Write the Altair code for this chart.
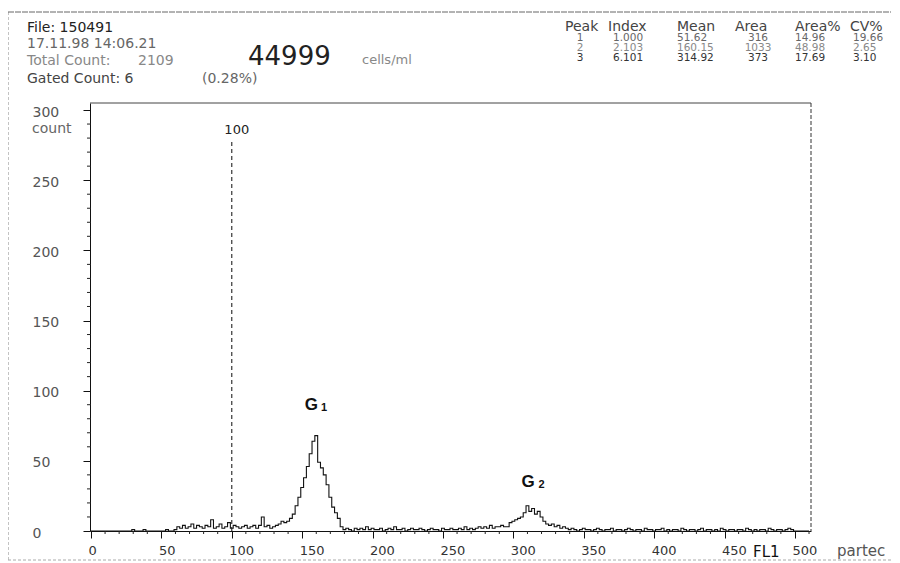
import altair as alt
import pandas as pd

# ---------------- data ----------------
counts_low = [0,0,0,0,0,0,0,0,0,0, 0,0,0,0,0,1,0,0,0,1, 0,0,0,0,0,0,0,1,0,0]
counts_noise = [1,3,2,4,2,3,5,2,4,3, 2,4,3,8,2,3,5,2,3,6, 2,4,3,2,3,4,2,3,4,2,
                4,10,3,4,2,3,4,5,7,6]
counts_g1 = [7,9,12,18,24,31,38,46,55,64, 68,49,45,40,33,24,17,13,9,3]
counts_mid = [1,2,1,0,2,1,2,1,3,1, 2,1,1,2,0,1,2,1,3,1, 1,2,0,1,2,1,1,2,1,0,
              1,2,1,1,0,2,1,1,2,1, 1,2,1,3,1,2,1,2,3,2, 3,2,4,2,3]
counts_g2 = [3,4,3,3,6,7,8,9,10,13, 18,14,16,12,14,10,7,5,4,5, 3,4,2,3]
counts_high = [2,1,2,1,0,1,2,1,1,0, 1,2,1,0,1,1,2,0,1,1, 0,1,2,1,0,1,1,0,2,1,
               1,0,1,1,2,0,1,0,1,1, 0,2,1,0,1,1,0,1,2,0, 1,1,0,1,0,2,1,0,1,1,
               0,1,1,0,2,1,0,1,0,1, 1,0,2,1,0,1,1,0,1,2, 1]
counts_tail = [0,0,0,0,0,0]
counts = counts_low + counts_noise + counts_g1 + counts_mid + counts_g2 + counts_high + counts_tail
channels = list(range(0, 512, 2))

x_major = [0, 50, 100, 150, 200, 250, 300, 350, 400, 450, 500]
y_major = [0, 50, 100, 150, 200, 250, 300]
x_minor = [v for v in range(0, 511, 10) if v % 50 != 0]
y_minor = [v for v in range(0, 301, 10) if v % 50 != 0]

gate_channel = 100
gate_top = 279
gate_label = "100"

peak_labels = ["G", "G"]
peak_subs = ["1", "2"]
peak_x = [156.5, 310.5]
peak_sub_x = [165.5, 320.0]
peak_y = [86, 31]

header_lines = ["File: 150491", "17.11.98 14:06.21", "Total Count:", "Gated Count: 6"]
total_count = "2109"
gated_pct = "(0.28%)"
cell_count = "44999"
cell_unit = "cells/ml"

table_header = ["Peak", "Index", "Mean", "Area", "Area%", "CV%"]
table_rows = [
    ["1", "1.000", "51.62", "316", "14.96", "19.66"],
    ["2", "2.103", "160.15", "1033", "48.98", "2.65"],
    ["3", "6.101", "314.92", "373", "17.69", "3.10"],
]

# ---------------- layout ----------------
W, H = 721, 428
FONT = "DejaVu Sans"
xs = alt.Scale(domain=[-0.7, 511.4], nice=False, zero=False)
ys = alt.Scale(domain=[0, 305], nice=False, zero=False)

AX = alt.Axis(values=x_major, tickSize=7, labelAlign="left", labelOffset=-3,
              labelPadding=6, labelFont=FONT, labelFontSize=13, labelColor="#333",
              domainColor="#111", tickColor="#111", grid=False, labelFlush=False,
              labelOverlap=False)
AY = alt.Axis(values=y_major, tickSize=7, labelAlign="left", labelPadding=51,
              labelBaseline="middle", labelOffset=2, labelFont=FONT, labelFontSize=14,
              labelColor="#555", domainColor="#111", tickColor="#111", grid=False,
              labelFlush=False, labelOverlap=False)


def X(field):
    return alt.X(field, scale=xs, axis=AX, title=None)


def Y(field):
    return alt.Y(field, scale=ys, axis=AY, title=None)


hist = pd.DataFrame({"channel": channels, "count": counts})

line = alt.Chart(hist).mark_line(interpolate="step", color="#111", strokeWidth=1.1).encode(
    x=X("channel:Q"), y=Y("count:Q"))

xminor = alt.Chart(pd.DataFrame({"v": x_minor})).mark_rule(color="#222", strokeWidth=1).encode(
    x=X("v:Q"), y=alt.value(H), y2=alt.value(H + 3))
yminor = alt.Chart(pd.DataFrame({"v": y_minor})).mark_rule(color="#222", strokeWidth=1).encode(
    y=Y("v:Q"), x=alt.value(-3), x2=alt.value(1))

gate = alt.Chart(pd.DataFrame({"x": [gate_channel], "y": [0], "y2": [gate_top]})).mark_rule(
    color="#222", strokeWidth=1.1, strokeDash=[4, 3]).encode(
    x=X("x:Q"), y=Y("y:Q"), y2="y2:Q")
gate_txt = alt.Chart(pd.DataFrame({"x": [gate_channel], "y": [gate_top + 4], "t": [gate_label]})).mark_text(
    font=FONT, fontSize=13, color="#222", align="center", baseline="alphabetic", dx=5).encode(
    x=X("x:Q"), y=Y("y:Q"), text="t:N")

pk = pd.DataFrame({"x": peak_x, "xs": peak_sub_x, "y": peak_y, "g": peak_labels, "s": peak_subs})
g_txt = alt.Chart(pk).mark_text(font="Liberation Sans", fontSize=17, fontWeight="bold", color="#111",
                                align="center", baseline="alphabetic").encode(
    x=X("x:Q"), y=Y("y:Q"), text="g:N")
s_txt = alt.Chart(pk).mark_text(font="Liberation Sans", fontSize=11, fontWeight="bold", color="#111",
                                align="center", baseline="alphabetic", dy=1).encode(
    x=X("xs:Q"), y=Y("y:Q"), text="s:N")

one = pd.DataFrame({"a": [0]})


def txt(t, px, py, size=14, color="#333", align="left", font=FONT, weight="normal"):
    return alt.Chart(pd.DataFrame({"t": [t]})).mark_text(
        font=font, fontSize=size, color=color, align=align, baseline="alphabetic",
        fontWeight=weight).encode(x=alt.value(px), y=alt.value(py), text="t:N")


def hrule(x1, x2, y, color="#555", dash=None, width=1):
    kw = dict(color=color, strokeWidth=width)
    if dash:
        kw["strokeDash"] = dash
    return alt.Chart(one).mark_rule(**kw).encode(x=alt.value(x1), x2=alt.value(x2), y=alt.value(y))


def vrule(x, y1, y2, color="#555", dash=None, width=1):
    kw = dict(color=color, strokeWidth=width)
    if dash:
        kw["strokeDash"] = dash
    return alt.Chart(one).mark_rule(**kw).encode(x=alt.value(x), y=alt.value(y1), y2=alt.value(y2))


deco = [
    hrule(0, W, 0, color="#444"),
    vrule(W, 0, H, color="#333", dash=[4, 2]),
    vrule(-82, -91, 457, color="#888", dash=[3, 2]),
    hrule(-82, 801, -91, color="#666", dash=[6, 1]),
    hrule(-82, 801, 457, color="#aaa", dash=[3, 2]),
]

texts = [
    txt(header_lines[0], -63, -71, color="#222"),
    txt(header_lines[1], -63, -55, color="#666"),
    txt(header_lines[2], -63, -38, color="#888"),
    txt(total_count, 48, -38, color="#888"),
    txt(header_lines[3], -63, -20, color="#444"),
    txt(gated_pct, 112, -20, color="#666"),
    txt(cell_count, 158, -38, size=26, color="#222"),
    txt(cell_unit, 272, -39, size=13, color="#888"),
    txt("count", -58, 30, size=14, color="#666"),
    txt("FL1", 663, H + 26, size=15, color="#111"),
    txt("partec", 747, H + 25, size=15, color="#555"),
]

head_x = [475, 518, 587, 645, 705, 760]
for t, px in zip(table_header, head_x):
    texts.append(txt(t, px, -72, size=14, color="#444"))

col_x = [490, 523, 587, 668, 705, 763]
col_align = ["center", "left", "left", "center", "left", "left"]
row_y = [-62, -52, -42]
row_col = ["#666", "#888", "#333"]
for row, py, c in zip(table_rows, row_y, row_col):
    for t, px, al in zip(row, col_x, col_align):
        texts.append(txt(t, px, py, size=10.5, color=c, align=al))

chart = alt.layer(line, xminor, yminor, gate, gate_txt, g_txt, s_txt, *deco, *texts).properties(
    width=W, height=H,
    padding={"left": 82, "top": 95, "right": 80, "bottom": 32},
    autosize=alt.AutoSizeParams(type="none"),
    background="white",
).configure_view(stroke=None)

chart.save("out.html", embed_options={"renderer": "svg", "actions": False})
